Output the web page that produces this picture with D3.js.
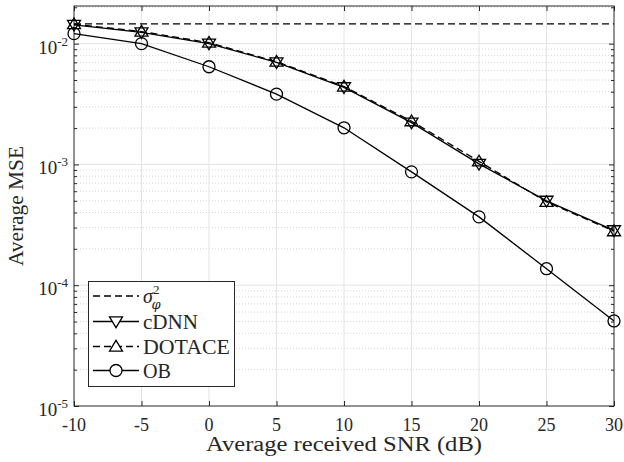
<!DOCTYPE html>
<html>
<head>
<meta charset="utf-8">
<script src="https://cdn.jsdelivr.net/npm/d3@7"></script>
<style>
  body { margin: 0; background: white; }
  text { font-family: "Liberation Serif", "Times New Roman", serif; fill: #262626; }
</style>
</head>
<body>
<div id="chart"></div>
<script>
// SNR points on the x axis
var snr = [-10, -5, 0, 5, 10, 15, 20, 25, 30];

// series values
var sigmaPhi = 0.0146;
var cdnn   = [0.0143, 0.0124, 0.0100, 0.0070, 0.00435, 0.00222, 0.00101, 0.000500, 0.000285];
var dotace = [0.0145, 0.0126, 0.0102, 0.0071, 0.00442, 0.00228, 0.00106, 0.000490, 0.000280];
var ob     = [0.0121, 0.0100, 0.00644, 0.00382, 0.00201, 0.000868, 0.000368, 0.000137, 0.0000506];

var xTicks = [-10, -5, 0, 5, 10, 15, 20, 25, 30];
var yTicks = [1e-5, 1e-4, 1e-3, 1e-2];
var legendNames = ["\u03c3", "cDNN", "DOTACE", "OB"];

var W = 624, H = 462;
var plot = {left: 74, right: 614, top: 6, bottom: 406};

var svg = d3.select("#chart").append("svg")
    .attr("width", W).attr("height", H)
    .style("background-color", "white");

var x = d3.scaleLinear().domain([-10, 30]).range([plot.left, plot.right]);
var y = d3.scaleLog().domain([1e-5, 0.0205]).range([plot.bottom, plot.top]);

// minor values of each decade
var minors = [];
yTicks.forEach(function(d){
    for (var k = 2; k <= 9; k++){
        var v = d * k;
        if (v < 0.0205) minors.push(v);
    }
});

// grid
var grid = svg.append("g");
grid.selectAll(".minor").data(minors).enter().append("line")
    .attr("x1", plot.left).attr("x2", plot.right)
    .attr("y1", function(d){ return y(d); }).attr("y2", function(d){ return y(d); })
    .attr("stroke", "#d4d4d4").attr("stroke-width", 1)
    .attr("stroke-dasharray", "1,2");
grid.selectAll(".vx").data(xTicks.slice(1, -1)).enter().append("line")
    .attr("x1", function(d){ return x(d); }).attr("x2", function(d){ return x(d); })
    .attr("y1", plot.top).attr("y2", plot.bottom)
    .attr("stroke", "#e3e3e3").attr("stroke-width", 1);
grid.selectAll(".hy").data(yTicks.slice(1)).enter().append("line")
    .attr("x1", plot.left).attr("x2", plot.right)
    .attr("y1", function(d){ return y(d); }).attr("y2", function(d){ return y(d); })
    .attr("stroke", "#e3e3e3").attr("stroke-width", 1);

// axes (ticks inward, box on)
var axisColor = "#262626";
var ax = svg.append("g");
function styleAxis(g){
    g.select(".domain").remove();
    g.selectAll("line").attr("stroke", axisColor);
}
ax.append("g").attr("transform", "translate(0," + plot.bottom + ")")
    .call(d3.axisBottom(x).tickValues(xTicks).tickSizeInner(-5).tickSizeOuter(0).tickFormat(""))
    .call(styleAxis);
ax.append("g").attr("transform", "translate(0," + plot.top + ")")
    .call(d3.axisTop(x).tickValues(xTicks).tickSizeInner(-5).tickSizeOuter(0).tickFormat(""))
    .call(styleAxis);
ax.append("g").attr("transform", "translate(" + plot.left + ",0)")
    .call(d3.axisLeft(y).tickValues(yTicks).tickSizeInner(-5).tickSizeOuter(0).tickFormat(""))
    .call(styleAxis);
ax.append("g").attr("transform", "translate(" + plot.right + ",0)")
    .call(d3.axisRight(y).tickValues(yTicks).tickSizeInner(-5).tickSizeOuter(0).tickFormat(""))
    .call(styleAxis);
ax.append("g").attr("transform", "translate(" + plot.left + ",0)")
    .call(d3.axisLeft(y).tickValues(minors).tickSizeInner(-3).tickSizeOuter(0).tickFormat(""))
    .call(styleAxis);
ax.append("g").attr("transform", "translate(" + plot.right + ",0)")
    .call(d3.axisRight(y).tickValues(minors).tickSizeInner(-3).tickSizeOuter(0).tickFormat(""))
    .call(styleAxis);
ax.append("rect")
    .attr("x", plot.left).attr("y", plot.top)
    .attr("width", plot.right - plot.left).attr("height", plot.bottom - plot.top)
    .attr("fill", "none").attr("stroke", axisColor).attr("stroke-width", 1);

// tick labels
svg.selectAll(".xl").data(xTicks).enter().append("text")
    .attr("x", function(d){ return x(d); }).attr("y", 430.5)
    .attr("text-anchor", "middle").attr("font-size", 18)
    .text(function(d){ return d; });
var yl = svg.selectAll(".yl").data(yTicks).enter().append("text")
    .attr("x", 68).attr("y", function(d){ return y(d) + 10; })
    .attr("text-anchor", "end").attr("font-size", 19);
yl.append("tspan").text("10");
yl.append("tspan").attr("font-size", 13).attr("dy", -8)
    .text(function(d){ return Math.round(Math.log10(d)); });

// axis titles
svg.append("text").attr("x", (plot.left + plot.right) / 2).attr("y", 451)
    .attr("text-anchor", "middle").attr("font-size", 20)
    .attr("textLength", 276).attr("lengthAdjust", "spacingAndGlyphs")
    .text("Average received SNR (dB)");
svg.append("text").attr("transform", "translate(23," + (plot.top + plot.bottom) / 2 + ") rotate(-90)")
    .attr("text-anchor", "middle").attr("font-size", 20)
    .attr("textLength", 120).attr("lengthAdjust", "spacingAndGlyphs")
    .text("Average MSE");

// lines
var line = d3.line()
    .x(function(d, i){ return x(snr[i]); })
    .y(function(d){ return y(d); });
var g = svg.append("g");
g.append("path").datum(xTicks.map(function(){ return sigmaPhi; }))
    .attr("d", line).attr("fill", "none").attr("stroke", "black")
    .attr("stroke-width", 1.3).attr("stroke-dasharray", "7,4");
g.append("path").datum(ob).attr("d", line)
    .attr("fill", "none").attr("stroke", "black").attr("stroke-width", 1.3);
g.append("path").datum(cdnn).attr("d", line)
    .attr("fill", "none").attr("stroke", "black").attr("stroke-width", 1.3);
g.append("path").datum(dotace).attr("d", line)
    .attr("fill", "none").attr("stroke", "black").attr("stroke-width", 1.3)
    .attr("stroke-dasharray", "7,4");

// markers
function triDown(s){ return "M" + (-s) + "," + (-s * 0.7) + "L" + s + "," + (-s * 0.7) + "L0," + (s * 0.95) + "Z"; }
function triUp(s){ return "M" + (-s) + "," + (s * 0.7) + "L" + s + "," + (s * 0.7) + "L0," + (-s * 0.95) + "Z"; }
function markers(data, shape){
    var sel = g.selectAll(null).data(data).enter();
    if (shape == "circle"){
        sel.append("circle")
            .attr("cx", function(d, i){ return x(snr[i]); })
            .attr("cy", function(d){ return y(d); })
            .attr("r", 6).attr("fill", "none").attr("stroke", "black").attr("stroke-width", 1.3);
    } else {
        sel.append("path")
            .attr("transform", function(d, i){ return "translate(" + x(snr[i]) + "," + y(d) + ")"; })
            .attr("d", shape == "down" ? triDown(6.5) : triUp(6.5))
            .attr("fill", "none").attr("stroke", "black").attr("stroke-width", 1.3);
    }
}
markers(ob, "circle");
markers(cdnn, "down");
markers(dotace, "up");

// legend
var lg = svg.append("g");
lg.append("rect").attr("x", 88.5).attr("y", 281.5).attr("width", 146).attr("height", 105)
    .attr("fill", "white").attr("stroke", axisColor).attr("stroke-width", 1);
var rows = [296, 321.5, 346.5, 370.5];
var dashes = ["7,4", null, "7,4", null];
var widths = [null, 55, 87, 28];
rows.forEach(function(ry, i){
    lg.append("line").attr("x1", 93).attr("x2", 139).attr("y1", ry).attr("y2", ry)
        .attr("stroke", "black").attr("stroke-width", 1.3)
        .attr("stroke-dasharray", dashes[i]);
    if (i == 1) lg.append("path").attr("transform", "translate(116," + ry + ")").attr("d", triDown(6.5))
        .attr("fill", "white").attr("stroke", "black").attr("stroke-width", 1.3);
    if (i == 2) lg.append("path").attr("transform", "translate(116," + ry + ")").attr("d", triUp(6.5))
        .attr("fill", "white").attr("stroke", "black").attr("stroke-width", 1.3);
    if (i == 3) lg.append("circle").attr("cx", 116).attr("cy", ry).attr("r", 6)
        .attr("fill", "white").attr("stroke", "black").attr("stroke-width", 1.3);
    var t = lg.append("text").attr("x", 143).attr("y", ry + 7).attr("font-size", 20);
    if (i == 0){
        t.append("tspan").attr("font-style", "italic").text(legendNames[0]);
        t.append("tspan").attr("font-size", 13).attr("dy", -9).text("2");
        t.append("tspan").attr("font-size", 13).attr("font-style", "italic")
            .attr("font-family", "DejaVu Serif")
            .attr("dx", -8).attr("dy", 15).text("\u03c6");
    } else {
        t.attr("textLength", widths[i]).attr("lengthAdjust", "spacingAndGlyphs")
            .text(legendNames[i]);
    }
});
</script>
</body>
</html>
